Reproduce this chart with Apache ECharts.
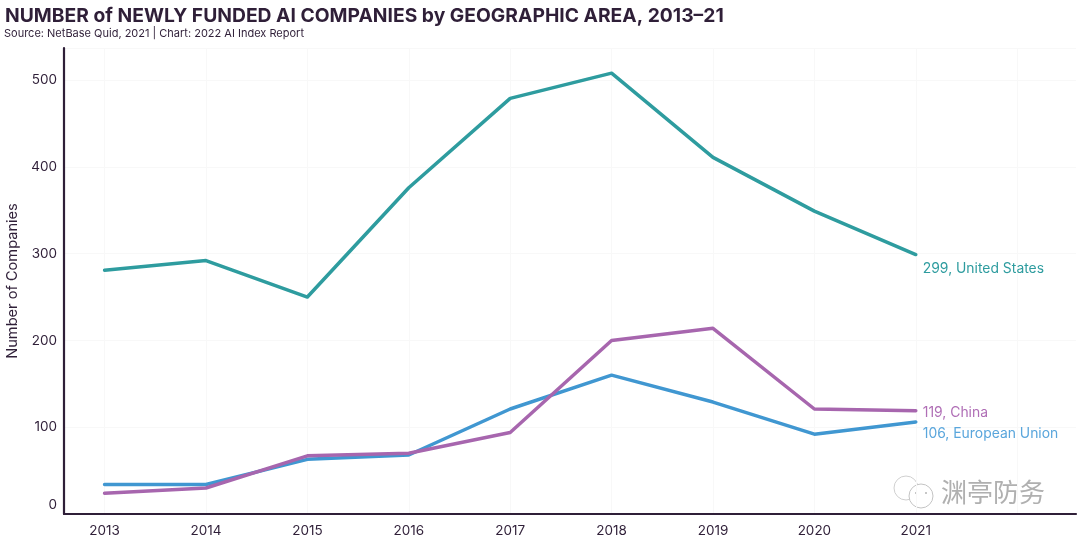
<!DOCTYPE html>
<html>
<head>
<meta charset="utf-8">
<script src="https://cdn.jsdelivr.net/npm/echarts@6/dist/echarts.min.js"></script>
<style>
html,body{margin:0;padding:0;background:#fff;}
#chart{width:1080px;height:540px;}
</style>
</head>
<body>
<div id="chart"></div>
<script>
var years=[2013,2014,2015,2016,2017,2018,2019,2020,2021];
var gridYears=[2013,2014,2015,2016,2017,2018,2019,2020,2021,2022];
var usValues=[281,292,250,376,479,508,411,349,299];
var chinaValues=[24,30,67,70,94,200,214,121,119];
var euValues=[34,34,63,68,121,160,129,92,106];
var dark='#2f1f38';
var font='Inter, "DejaVu Sans", sans-serif';

function pairs(vals){
    return years.map(function(y,i){return [y,vals[i]];});
}

function lineSeries(name,vals,color,labelColor,text,offset){
    return {
        name:name,
        type:'line',
        data:pairs(vals),
        symbol:'none',
        lineStyle:{color:color,width:3.5,cap:'round',join:'round'},
        endLabel:{
            show:true,
            formatter:text,
            color:labelColor,
            fontFamily:font,
            fontSize:13.9,
            distance:7,
            offset:offset
        },
        silent:true
    };
}

var chart=echarts.init(document.getElementById('chart'));
var option={
    animation:false,
    backgroundColor:'#fff',
    title:[
        {text:'NUMBER of NEWLY FUNDED AI COMPANIES by GEOGRAPHIC AREA, 2013–21',left:5,top:7,padding:0,
            textStyle:{color:dark,fontFamily:font,fontSize:19.3,fontWeight:700}},
        {text:'Source: NetBase Quid, 2021 | Chart: 2022 AI Index Report',left:4,top:28,padding:0,
            textStyle:{color:dark,fontFamily:font,fontSize:11,fontWeight:400}}
    ],
    grid:{left:64,right:4,top:48,bottom:26,outerBoundsMode:'none'},
    xAxis:{
        type:'value',
        min:2012.6,
        max:2022.58,
        axisLine:{show:true,lineStyle:{color:dark,width:2.2}},
        axisTick:{show:false,customValues:gridYears},
        axisLabel:{
            customValues:years,
            color:dark,fontFamily:font,fontSize:13.5,margin:10,
            formatter:function(v){return String(v);}
        },
        splitLine:{show:true,lineStyle:{color:'#f8f8f8',width:1}}
    },
    yAxis:{
        type:'value',
        min:0,
        max:537,
        interval:100,
        name:'Number of Companies',
        nameLocation:'middle',
        nameGap:32,
        nameTextStyle:{color:dark,fontFamily:font,fontSize:14.6},
        axisLine:{show:true,onZero:false,lineStyle:{color:dark,width:2.2}},
        axisTick:{show:false},
        axisLabel:{
            showMaxLabel:false,
            color:dark,fontFamily:font,fontSize:13.5,margin:7,
            formatter:function(v){return v===0?'{zero|0}':String(v);},
            rich:{zero:{color:dark,fontFamily:font,fontSize:13.5,padding:[0,0,18,0]}}
        },
        splitLine:{show:true,lineStyle:{color:'#f8f8f8',width:1}}
    },
    series:[
        lineSeries('United States',usValues,'#2e9c9f','#2e9c9f','299, United States',[0,14]),
        lineSeries('European Union',euValues,'#4097d1','#5aa6dc','106, European Union',[0,12]),
        lineSeries('China',chinaValues,'#a766ae','#b06fb6','119, China',[0,2])
    ],
    graphic:[
        {type:'circle',shape:{cx:906,cy:488,r:12},style:{fill:'#fff',stroke:'#d0d0d0',lineWidth:1}},
        {type:'circle',shape:{cx:921,cy:496,r:12},style:{fill:'#fff',stroke:'#c4c4c4',lineWidth:1}},
        {type:'circle',shape:{cx:916,cy:493,r:1},style:{fill:'#b5b5b5'}},
        {type:'circle',shape:{cx:926,cy:493,r:1},style:{fill:'#b5b5b5'}},
        {type:'text',left:941,top:479,
            style:{text:'渊亭防务',fill:'#b0b0b0',font:'26px "Noto Sans CJK SC"'}}
    ]
};
chart.setOption(option);
</script>
</body>
</html>
